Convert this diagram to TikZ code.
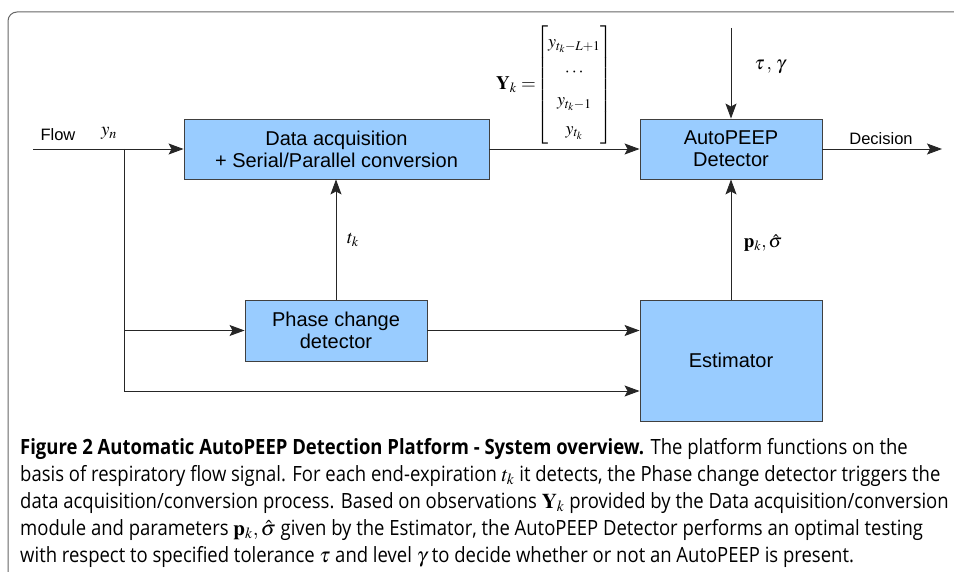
\documentclass[tikz,border=0pt]{standalone}
\usepackage{amsmath}
\usepackage{mathptmx}
\usepackage[no-math]{fontspec}
\setmainfont{Liberation Sans}
\newfontfamily\capfont[FakeStretch=0.88]{Open Sans}
\usetikzlibrary{arrows.meta, positioning}
\definecolor{boxblue}{HTML}{99CCFF}

\begin{document}
\begin{tikzpicture}[x=1pt, y=-1pt, >={Stealth[length=15pt,width=11pt,inset=3pt]},
  blk/.style={draw=black!75, fill=boxblue, line width=0.9pt, align=center, inner sep=0pt,
    font=\fontsize{20}{22}\selectfont},
  sig/.style={draw=black!85, line width=0.9pt},
  lab/.style={font=\fontsize{16.5}{19}\selectfont}]
\useasboundingbox (0,0) rectangle (954,572);
\draw[black!60, line width=1pt, rounded corners=9] (8,12) rectangle (985,610);

\node[blk, minimum width=305, minimum height=60] (DA) at (336.5,149) {Data acquisition\\+ Serial/Parallel conversion};
\node[blk, minimum width=182, minimum height=60] (AD) at (731,149) {AutoPEEP\\Detector};
\node[blk, minimum width=182, minimum height=61] (PC) at (336,330.5) {Phase change\\detector};
\node[blk, minimum width=182, minimum height=121] (ES) at (731,360.5) {Estimator};

\coordinate (flow) at (33,149);
\coordinate (split) at (124,149);
\coordinate (low) at (124,391);
\coordinate (dec) at (942,149);
\coordinate (tg) at (731,28);

\draw[sig, ->] (flow) -- (DA);
\draw[sig] (split) -- (low);
\draw[sig, ->] (split |- PC.west) -- (PC.west);
\draw[sig, ->] (PC.east) -- (PC.east -| ES.west);
\draw[sig, ->] (low) -- (low -| ES.west);
\draw[sig, ->] (PC.north) -- (PC.north |- DA.south);
\draw[sig, ->] (ES.north) -- (AD.south);
\draw[sig, ->] (tg) -- (AD.north);
\draw[sig, ->] (DA.east) -- (AD.west);
\draw[sig, ->] (AD.east) -- (dec);

\node[lab] (fl) at (58,135) {Flow};
\node[lab, font=\fontsize{19}{19}\selectfont] (yn) at (109,133) {$y_n$};
\node[lab] (dc) at (881,139) {Decision};
\node[lab, font=\fontsize{19}{19}\selectfont] (tk) at (353,240) {$t_k$};
\node[lab, font=\fontsize{19}{19}\selectfont] (pk) at (763,243) {$\mathbf{p}_{\boldsymbol{k}},\hat{\sigma}$};
\node[lab, font=\fontsize{19}{19}\selectfont] (tau) at (770,67) {$\tau\,,\,\gamma$};
\node[lab, anchor=east, inner sep=0pt, font=\fontsize{19}{19}\selectfont] (Yk) at (536,85) {$\mathbf{Y}_{\boldsymbol{k}}=$};
\node[lab, anchor=west, inner sep=0pt, font=\fontsize{18}{20}\selectfont] (vec) at (Yk.east) {$\renewcommand{\arraystretch}{1.45}\begin{bmatrix} y_{t_k-L+1}\\ \cdots\\ y_{t_k-1}\\ y_{t_k}\end{bmatrix}$};

\node[anchor=north west, align=left, inner sep=0pt, font=\capfont\fontsize{21}{27}\selectfont] (cap) at (20,438)
{{\bfseries Figure 2 Automatic AutoPEEP Detection Platform - System overview.} The platform functions on the\\
basis of respiratory flow signal. For each end-expiration $t_k$ it detects, the Phase change detector triggers the\\
data acquisition/conversion process. Based on observations $\mathbf{Y}_k$ provided by the Data acquisition/conversion\\
module and parameters $\mathbf{p}_k,\hat{\sigma}$ given by the Estimator, the AutoPEEP Detector performs an optimal testing\\
with respect to specified tolerance $\tau$ and level $\gamma$ to decide whether or not an AutoPEEP is present.};
\end{tikzpicture}
\end{document}
